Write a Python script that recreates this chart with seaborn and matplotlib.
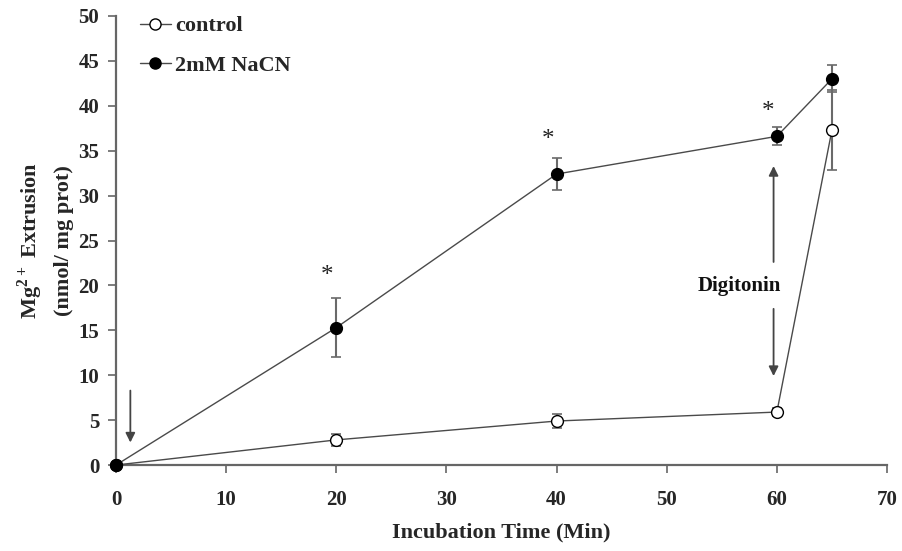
import matplotlib
matplotlib.use("Agg")
import matplotlib.pyplot as plt
import seaborn as sns
import pandas as pd
import numpy as np

# Data
time = [0, 20, 40, 60, 65]
control = [0.0, 2.8, 4.9, 5.9, 37.3]
control_err = [0.0, 0.7, 0.8, 0.4, 4.5]
nacn = [0.0, 15.3, 32.4, 36.6, 43.0]
nacn_err = [0.0, 3.3, 1.8, 1.0, 1.5]
series_names = ["control", "2mM NaCN"]
xticks = [0, 10, 20, 30, 40, 50, 60, 70]
yticks = [0, 5, 10, 15, 20, 25, 30, 35, 40, 45, 50]
star_x = [20, 40, 60]

sns.set_style("ticks")
plt.rcParams["font.family"] = ["Liberation Serif", "DejaVu Serif"]
plt.rcParams["mathtext.fontset"] = "custom"
plt.rcParams["mathtext.rm"] = "Liberation Serif:bold"
plt.rcParams["mathtext.bf"] = "Liberation Serif:bold"

fig = plt.figure(figsize=(9.03, 5.51), dpi=100)
ax = fig.add_axes([0.1285, 0.156, 0.8538, 0.815])

df = pd.DataFrame({
    "time": time * 2,
    "value": control + nacn,
    "series": [series_names[0]] * len(time) + [series_names[1]] * len(time),
})

line_col = "#4a4a4a"
err_col = "#6a6a6a"

# error bars
ax.errorbar(time, control, yerr=control_err, fmt="none", ecolor=err_col,
            elinewidth=1.5, capsize=3.5, capthick=1.2, zorder=2)
ax.errorbar(time, nacn, yerr=nacn_err, fmt="none", ecolor=err_col,
            elinewidth=1.5, capsize=3.5, capthick=1.2, zorder=2)

sns.lineplot(data=df[df.series == series_names[0]], x="time", y="value", ax=ax,
             color=line_col, linewidth=1.0, marker="o", markersize=8.5,
             markerfacecolor="white", markeredgecolor="black", markeredgewidth=1.0,
             label=series_names[0], zorder=3)
sns.lineplot(data=df[df.series == series_names[1]], x="time", y="value", ax=ax,
             color=line_col, linewidth=1.0, marker="o", markersize=8.5,
             markerfacecolor="black", markeredgecolor="black", markeredgewidth=1.0,
             label=series_names[1], zorder=4)

ax.set_xlim(0, 70)
ax.set_ylim(0, 50)
ax.set_xticks(xticks)
ax.set_yticks(yticks)
ax.set_xticklabels([str(t) for t in xticks], fontsize=15, fontweight="bold")
ax.set_yticklabels([str(t) for t in yticks], fontsize=15, fontweight="bold")
ax.tick_params(axis="both", direction="out", length=6, width=1.2, color="#666666", pad=6)
ax.tick_params(axis="x", pad=12)
for s in ["top", "right"]:
    ax.spines[s].set_visible(False)
for s in ["left", "bottom"]:
    ax.spines[s].set_color("#666666")
    ax.spines[s].set_linewidth(1.6)
ax.spines["left"].set_zorder(1)
ax.spines["bottom"].set_zorder(1)
for m in ax.get_lines():
    m.set_clip_on(False)

ax.set_xlabel("Incubation Time (Min)", fontsize=16, fontweight="bold", labelpad=9)
ax.set_ylabel("Mg$^{2+}$ Extrusion\n(nmol/ mg prot)", fontsize=16,
              fontweight="bold", labelpad=3, linespacing=1.6)

# asterisks
for xs, ys in zip(star_x, [21.0, 36.2, 39.3]):
    ax.text(xs - 0.8, ys, "*", ha="center", va="center", fontsize=18, color="#222222")

# arrows
ax.annotate("", xy=(1.3, 2.2), xytext=(1.3, 8.6),
            arrowprops=dict(arrowstyle="-|>", color="#444444", lw=1.3, mutation_scale=14))
ax.annotate("", xy=(59.7, 33.6), xytext=(59.7, 22.3),
            arrowprops=dict(arrowstyle="-|>", color="#444444", lw=1.3, mutation_scale=14))
ax.annotate("", xy=(59.7, 9.6), xytext=(59.7, 17.7),
            arrowprops=dict(arrowstyle="-|>", color="#444444", lw=1.3, mutation_scale=14))
ax.text(56.6, 19.9, "Digitonin", ha="center", va="center", fontsize=15,
        fontweight="bold", color="#111111")

leg = ax.legend(loc="upper left", bbox_to_anchor=(0.005, 1.045), frameon=False,
                handlelength=1.4, handletextpad=0.2, labelspacing=0.85,
                prop={"weight": "bold", "size": 16})
for h in leg.legend_handles:
    h.set_markersize(8)

fig.savefig("out.png", dpi=100)
